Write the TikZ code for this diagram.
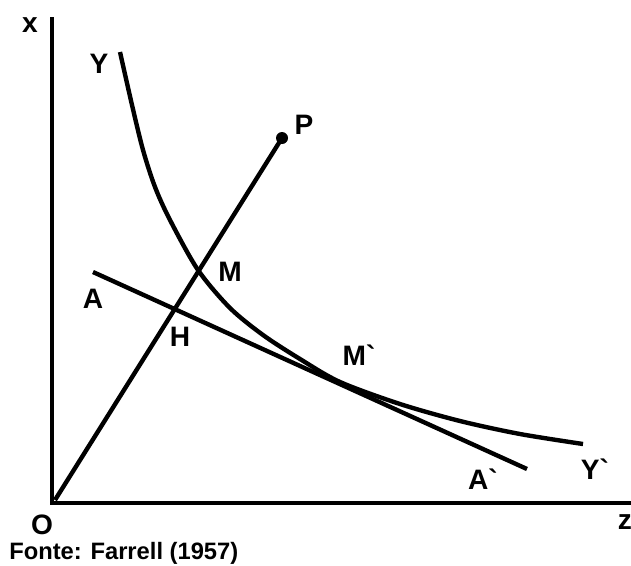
\documentclass[tikz,border=0pt]{standalone}
\usepackage{fontspec}
\setmainfont{Liberation Sans}
\begin{document}
\begin{tikzpicture}[x=0.02cm,y=-0.02cm,
  lbl/.style={font=\bfseries\fontsize{16pt}{18pt}\selectfont, inner sep=0pt},
  captiontext/.style={font=\bfseries\fontsize{13.5pt}{16pt}\selectfont, inner sep=0pt},
  axis/.style={line width=2.8pt},
  curve/.style={line width=2.5pt}]
\useasboundingbox (0,0) rectangle (631,565);
% coordinates
\coordinate (xtop) at (52,17);
\coordinate (orig) at (52,503);
\coordinate (zend) at (633,503);
\coordinate (O) at (55,500);
\coordinate (P) at (282,138);
\coordinate (A1) at (93,272);
\coordinate (A2) at (527,469);
% axes
\draw[axis] (xtop) -- (orig) -- (zend);
% ray
\draw[curve] (O) -- (P);
\fill (P) circle (6);
% isocost line
\draw[curve] (A1) -- (A2);
% isoquant
\draw[curve] plot[smooth, tension=0.5] coordinates {(120,52) (132,105) (143,150) (155,187) (170,220) (198,270) (230,308) (263,335) (300,359) (340,382) (400,404) (460,421) (520,434) (583,444)};
% labels
\node[lbl] (lx) at (30,25) {x};
\node[lbl] (lY) at (99,64) {Y};
\node[lbl] (lP) at (304,125) {P};
\node[lbl] (lM) at (230,272) {M};
\node[lbl] (lA) at (93,299) {A};
\node[lbl] (lH) at (180,337) {H};
\node[lbl] (lMp) at (359,355) {M\textasciigrave};
\node[lbl] (lAp) at (483,479) {A\textasciigrave};
\node[lbl] (lYp) at (595,469) {Y\textasciigrave};
\node[lbl] (lO) at (42,525) {O};
\node[lbl] (lz) at (625,522) {z};
\node[captiontext, anchor=west] (src) at (9,553) {Fonte: Farrell (1957)};
\end{tikzpicture}
\end{document}
